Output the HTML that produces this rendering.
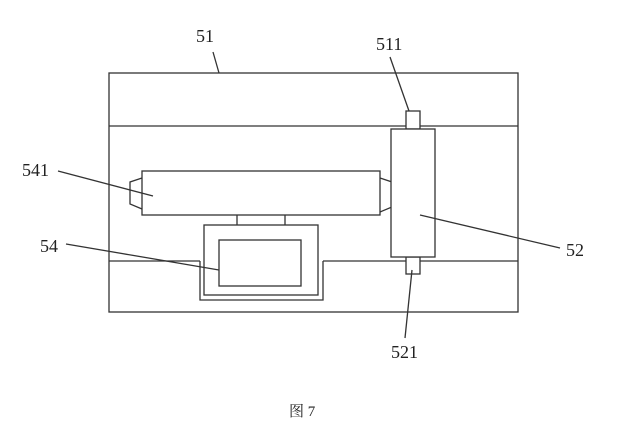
<!DOCTYPE html><html><head><style>body{margin:0;background:#fff}svg{display:block}text{font-family:"Liberation Serif","Noto Serif CJK SC",serif;font-size:18px;fill:#222}</style></head><body>
<svg width="632" height="434" viewBox="0 0 632 434" xmlns="http://www.w3.org/2000/svg">
<g fill="none" stroke="#333" stroke-width="1.3">
<rect x="109" y="73" width="409" height="239"/>
<line x1="109" y1="126" x2="518" y2="126"/>
<line x1="109" y1="261" x2="200" y2="261"/>
<line x1="323" y1="261" x2="518" y2="261"/>
<rect x="142" y="171" width="238" height="44" fill="#fff"/>
<polyline points="142,178 130,182 130,204 142,209"/>
<polyline points="380,178 392,182 392,207 380,212"/>
<line x1="237" y1="215" x2="237" y2="225"/><line x1="285" y1="215" x2="285" y2="225"/>
<polyline points="200,261 200,300 323,300 323,261"/>
<rect x="204" y="225" width="114" height="70" fill="#fff"/>
<rect x="219" y="240" width="82" height="46"/>
<rect x="406" y="111" width="14" height="18" fill="#fff"/>
<rect x="406" y="257" width="14" height="17" fill="#fff"/>
<rect x="391" y="129" width="44" height="128" fill="#fff"/>
<line x1="213" y1="52" x2="219" y2="73"/>
<line x1="390" y1="57" x2="409" y2="111"/>
<line x1="58" y1="171" x2="153" y2="196"/>
<line x1="66" y1="244" x2="219" y2="270"/>
<line x1="420" y1="215" x2="560" y2="248"/>
<line x1="412" y1="270" x2="405" y2="338"/>
</g>
<text x="196" y="42">51</text>
<text x="376" y="50">511</text>
<text x="22" y="176">541</text>
<text x="40" y="252">54</text>
<text x="566" y="256">52</text>
<text x="391" y="358">521</text>
<text x="289" y="416" style="font-size:15px">图 7</text>
</svg></body></html>
